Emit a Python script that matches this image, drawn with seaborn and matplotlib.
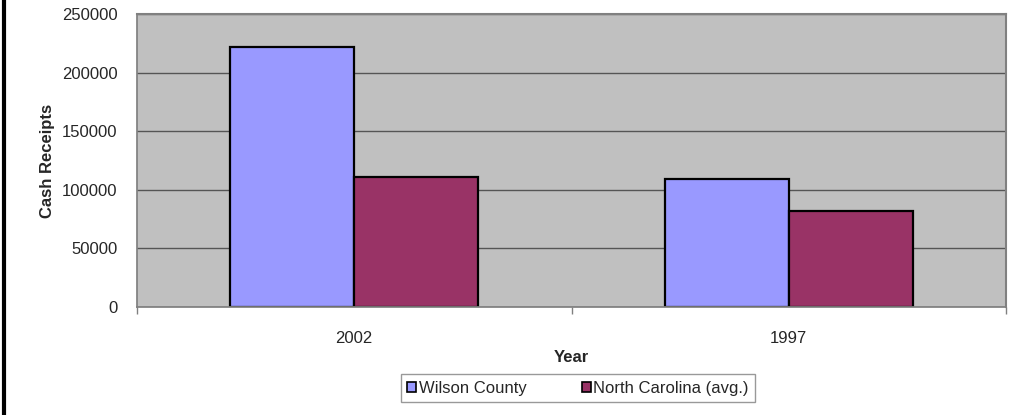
import seaborn as sns
import matplotlib.pyplot as plt
import pandas as pd
from matplotlib.lines import Line2D
from matplotlib.ticker import FixedLocator

years = ["2002", "1997"]
series = ["Wilson County", "North Carolina (avg.)"]
wilson = [222000, 109000]
north_carolina = [111000, 82000]

df = pd.DataFrame({
    "Year": years * 2,
    "Area": [series[0]] * 2 + [series[1]] * 2,
    "Cash Receipts": wilson + north_carolina,
})

sns.set_theme(style="white")
plt.rcParams["font.family"] = ["Liberation Sans", "DejaVu Sans"]

fig = plt.figure(figsize=(10.25, 4.15), dpi=100)
ax = fig.add_axes([137 / 1025, 1 - 307 / 415, 869 / 1025, 293 / 415])

sns.barplot(data=df, x="Year", y="Cash Receipts", hue="Area", order=years,
            hue_order=series, palette=["#9999FF", "#993366"], width=0.57,
            edgecolor="black", linewidth=1.6, saturation=1, ax=ax)

ax.set_facecolor("#C0C0C0")
ax.set_xlim(-0.5, 1.5)
ax.set_ylim(0, 250000)
ax.set_yticks(range(0, 250001, 50000))
ax.yaxis.grid(True, color="#555555", linewidth=1)
ax.set_axisbelow(True)
for side in ["top", "right"]:
    ax.spines[side].set_color("#808080")
    ax.spines[side].set_linewidth(1.5)
ax.spines["left"].set_color("#808080")
ax.spines["bottom"].set_color("#808080")

ax.tick_params(axis="y", which="major", length=4, color="#808080", pad=10, labelsize=12)
ax.tick_params(axis="x", which="major", length=0, pad=17, labelsize=12)
ax.xaxis.set_minor_locator(FixedLocator([-0.5, 0.5, 1.5]))
ax.tick_params(axis="x", which="minor", length=5, color="#808080", bottom=True)

ax.set_xlabel("Year", fontsize=12, fontweight="bold", labelpad=3)
ax.set_ylabel("Cash Receipts", fontsize=12, fontweight="bold", labelpad=5)

handles, labels = ax.get_legend_handles_labels()
ax.legend_.remove()
leg = fig.legend(handles, labels, loc="center", ncol=2,
                 bbox_to_anchor=(578 / 1025, 1 - 388 / 415),
                 bbox_transform=fig.transFigure, fontsize=12, frameon=True,
                 fancybox=False, edgecolor="#808080", handlelength=0.55,
                 handleheight=0.55, handletextpad=0.15, columnspacing=3.3,
                 borderpad=0.4, borderaxespad=0)
leg.get_frame().set_linewidth(1)
for h in leg.legend_handles:
    h.set_linewidth(1.2)

# frame line on the left edge
fig.add_artist(Line2D([4 / 1025, 4 / 1025], [0, 1], color="black", linewidth=3))

fig.savefig("out.png", dpi=100)
